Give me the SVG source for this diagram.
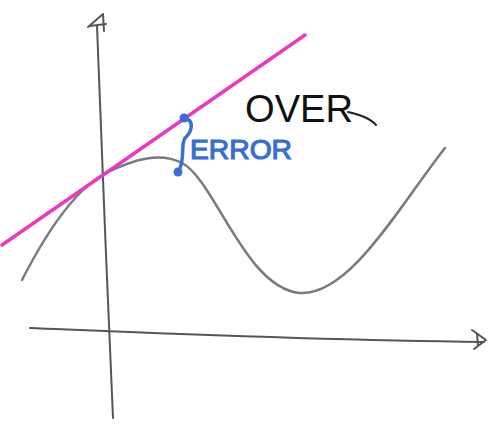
<svg xmlns="http://www.w3.org/2000/svg" width="493" height="425" viewBox="0 0 493 425">
<style>
.ax{fill:none;stroke:#555;stroke-width:2;stroke-linecap:round;stroke-linejoin:round}
.crv{fill:none;stroke:#7a7a7a;stroke-width:2.5;stroke-linecap:round}
.blue{fill:none;stroke:#3a6fd0;stroke-width:3.5;stroke-linecap:round}
</style>
<rect width="493" height="425" fill="#fff"/>
<path class="ax" d="M97,26 C100,120 108,300 113,418"/>
<path class="ax" d="M88,27 L103,14 L104,31 M90,26 L106,24"/>
<path class="ax" d="M30,328 C150,333 300,340 484,342"/>
<path class="ax" d="M472,330 L486,340 L474,349 M477,334 L478,346"/>
<path class="crv" d="M22,280 C45,235 75,188 108,172 C135,159 160,152 182,163 C215,180 245,288 300,293 C350,296 400,205 445,148"/>
<path d="M2,245 L305,35" fill="none" stroke="#e83bc0" stroke-width="3.5" stroke-linecap="round"/>
<path class="blue" d="M184,118 C195,120 192,132 185,138 C180,146 186,160 178,172"/>
<circle cx="184" cy="118" r="4.5" fill="#3a6fd0"/>
<circle cx="178" cy="172" r="4.5" fill="#3a6fd0"/>
<text x="190" y="159" font-family="Liberation Sans, sans-serif" font-size="28" fill="#3a6fd0" stroke="#3a6fd0" stroke-width="1.2" textLength="102" lengthAdjust="spacingAndGlyphs">ERROR</text>
<text x="245" y="122" font-family="Liberation Sans, sans-serif" font-size="38" fill="#111" textLength="108" lengthAdjust="spacingAndGlyphs">OVER</text>
<path d="M348,112 C360,115 370,118 376,125" fill="none" stroke="#222" stroke-width="2" stroke-linecap="round"/>
</svg>
